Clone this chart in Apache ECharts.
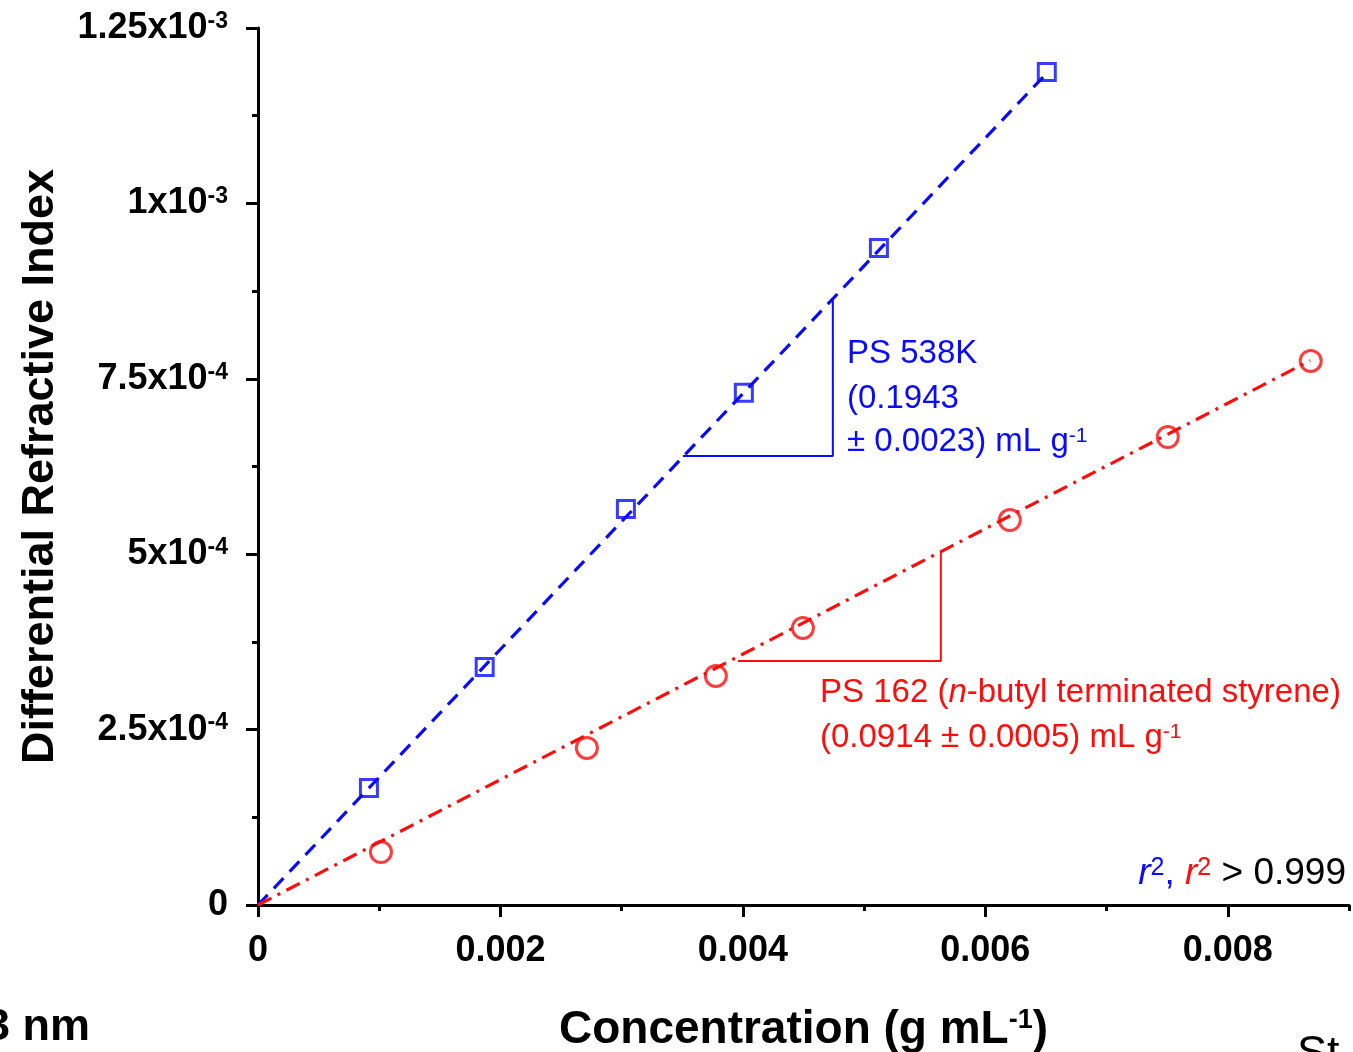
<!DOCTYPE html>
<html>
<head>
<meta charset="utf-8">
<script src="https://cdn.jsdelivr.net/npm/echarts@6/dist/echarts.min.js"></script>
<style>
  html, body { margin: 0; padding: 0; background: #fff; }
  #chart { width: 1353px; height: 1052px; }
</style>
</head>
<body>
<div id="chart"></div>
<script>
const FONT = '"Liberation Sans", Arial, Helvetica, sans-serif';
const BLUE = '#0a0aff';
const RED = '#ff0d0d';

// PS 538K: concentration (g/mL) and differential refractive index
const ps538Conc = [0.000915, 0.00187, 0.003035, 0.004008, 0.005122, 0.006507];
const ps538Dri  = [1.668e-4, 3.392e-4, 5.644e-4, 7.30e-4, 9.364e-4, 1.1873e-3];

// PS 162 (n-butyl terminated styrene)
const ps162Conc = [0.001014, 0.002713, 0.003777, 0.004495, 0.006202, 0.007505, 0.008684];
const ps162Dri  = [7.55e-5, 2.238e-4, 3.264e-4, 3.948e-4, 5.487e-4, 6.670e-4, 7.754e-4];

// Linear fits through the origin (end points)
const ps538FitConc = [0, 0.00652];
const ps538FitDri  = [0, 1.188e-3];
const ps162FitConc = [0, 0.00868];
const ps162FitDri  = [0, 7.76e-4];

// Slope triangles
const ps538StepConc = [0.003505, 0.004742, 0.004742];
const ps538StepDri  = [6.40e-4, 6.40e-4, 8.66e-4];
const ps162StepConc = [0.003959, 0.005633, 0.005633];
const ps162StepDri  = [3.478e-4, 3.478e-4, 5.03e-4];

// Tick labels
const xTickValues = [0, 0.002, 0.004, 0.006, 0.008];
const xTickLabels = ['0', '0.002', '0.004', '0.006', '0.008'];
const yTickValues = [0, 2.5e-4, 5e-4, 7.5e-4, 1e-3, 1.25e-3];
const yTickMantissa = ['0', '2.5x10', '5x10', '7.5x10', '1x10', '1.25x10'];
const yTickExponent = ['', '-4', '-4', '-4', '-3', '-3'];

function zip(xs, ys) { return xs.map((x, i) => [x, ys[i]]); }
function findTick(values, v) { return values.findIndex(t => Math.abs(t - v) < 1e-9); }

const chart = echarts.init(document.getElementById('chart'), null, { renderer: 'canvas' });

const axisLine = { show: true, lineStyle: { color: '#000', width: 3 } };

const option = {
  backgroundColor: '#fff',
  animation: false,
  grid: { left: 258, right: 4, top: 28, bottom: 147, containLabel: false, outerBoundsMode: 'none' },
  xAxis: [
    {
      type: 'value', position: 'bottom', min: 0, max: 0.009, interval: 0.001,
      axisLine: axisLine,
      axisTick: { show: true, inside: false, length: 6, lineStyle: { color: '#000', width: 3 } },
      axisLabel: { show: false },
      splitLine: { show: false },
      name: 'Concentration (g mL{s|-1})',
      nameLocation: 'middle',
      nameGap: 102,
      nameTextStyle: {
        fontFamily: FONT, fontSize: 46, fontWeight: 'bold', color: '#000',
        rich: {
          s: { fontFamily: FONT, fontSize: 27, fontWeight: 'bold', color: '#000', verticalAlign: 'top' }
        }
      }
    },
    {
      type: 'value', position: 'bottom', offset: 0, min: 0, max: 0.009, interval: 0.002,
      axisLine: { show: false },
      axisTick: { show: true, inside: false, length: 12, customValues: xTickValues, lineStyle: { color: '#000', width: 3 } },
      axisLabel: {
        show: true, margin: 28, customValues: xTickValues,
        fontFamily: FONT, fontSize: 36, fontWeight: 'bold', color: '#000',
        formatter: v => { const i = findTick(xTickValues, v); return i < 0 ? '' : xTickLabels[i]; }
      },
      splitLine: { show: false }
    }
  ],
  yAxis: {
    type: 'value', min: 0, max: 1.25e-3, interval: 2.5e-4,
    axisLine: axisLine,
    axisTick: { show: true, inside: false, length: 12, lineStyle: { color: '#000', width: 3 } },
    minorTick: { show: true, splitNumber: 2, length: 6, lineStyle: { color: '#000', width: 3 } },
    splitLine: { show: false },
    axisLabel: {
      margin: 30,
      formatter: v => {
        const i = findTick(yTickValues, v);
        if (i < 0) return '';
        return yTickExponent[i] ? '{m|' + yTickMantissa[i] + '}{s|' + yTickExponent[i] + '}' : '{m|' + yTickMantissa[i] + '}';
      },
      rich: {
        m: { fontFamily: FONT, fontSize: 36, fontWeight: 'bold', color: '#000' },
        s: { fontFamily: FONT, fontSize: 23, fontWeight: 'bold', color: '#000', verticalAlign: 'top' }
      }
    },
    name: 'Differential Refractive Index',
    nameLocation: 'middle',
    nameRotate: 90,
    nameGap: 195,
    nameTextStyle: { fontFamily: FONT, fontSize: 45, fontWeight: 'bold', color: '#000' }
  },
  series: [
    {
      name: 'PS 538K fit', type: 'line', xAxisIndex: 0, data: zip(ps538FitConc, ps538FitDri),
      showSymbol: false, symbol: 'none', z: 2,
      lineStyle: { color: BLUE, width: 3.2, type: [14, 9] }
    },
    {
      name: 'PS 162 fit', type: 'line', xAxisIndex: 0, data: zip(ps162FitConc, ps162FitDri),
      showSymbol: false, symbol: 'none', z: 2,
      lineStyle: { color: RED, width: 3.2, type: [15, 7, 3, 7] }
    },
    {
      name: 'PS 538K slope', type: 'line', xAxisIndex: 0, data: zip(ps538StepConc, ps538StepDri),
      showSymbol: false, symbol: 'none', z: 2,
      lineStyle: { color: BLUE, width: 2 }
    },
    {
      name: 'PS 162 slope', type: 'line', xAxisIndex: 0, data: zip(ps162StepConc, ps162StepDri),
      showSymbol: false, symbol: 'none', z: 2,
      lineStyle: { color: RED, width: 2 }
    },
    {
      name: 'PS 538K', type: 'scatter', xAxisIndex: 0, data: zip(ps538Conc, ps538Dri),
      symbol: 'rect', symbolSize: 17, z: 3,
      itemStyle: { color: 'rgba(0,0,0,0)', borderColor: BLUE, borderWidth: 3 }
    },
    {
      name: 'PS 162', type: 'scatter', xAxisIndex: 0, data: zip(ps162Conc, ps162Dri),
      symbol: 'circle', symbolSize: 21, z: 3,
      itemStyle: { color: 'rgba(0,0,0,0)', borderColor: RED, borderWidth: 3 }
    }
  ],
  graphic: [
    { type: 'text', x: 847, y: 354, style: { text: 'PS 538K', fill: BLUE, font: '33px ' + FONT, verticalAlign: 'middle' } },
    { type: 'text', x: 847, y: 399, style: { text: '(0.1943', fill: BLUE, font: '33px ' + FONT, verticalAlign: 'middle' } },
    {
      type: 'text', x: 847, y: 442,
      style: {
        text: '{t|± 0.0023) mL g}{s|-1}', verticalAlign: 'middle',
        rich: {
          t: { fill: BLUE, fontSize: 33, fontFamily: FONT },
          s: { fill: BLUE, fontSize: 21, fontFamily: FONT, verticalAlign: 'top' }
        }
      }
    },
    {
      type: 'text', x: 820, y: 693,
      style: {
        text: '{t|PS 162 (}{i|n}{t|-butyl terminated styrene)}', verticalAlign: 'middle',
        rich: {
          t: { fill: RED, fontSize: 33, fontFamily: FONT },
          i: { fill: RED, fontSize: 33, fontFamily: FONT, fontStyle: 'italic' }
        }
      }
    },
    {
      type: 'text', x: 820, y: 738,
      style: {
        text: '{t|(0.0914 ± 0.0005) mL g}{s|-1}', verticalAlign: 'middle',
        rich: {
          t: { fill: RED, fontSize: 33, fontFamily: FONT },
          s: { fill: RED, fontSize: 21, fontFamily: FONT, verticalAlign: 'top' }
        }
      }
    },
    {
      type: 'text', x: 1346, y: 874,
      style: {
        text: '{bi|r}{bs|2}{b|, }{ri|r}{rs|2}{k| > 0.999}', align: 'right', verticalAlign: 'middle',
        rich: {
          bi: { fill: BLUE, fontSize: 37, fontFamily: FONT, fontStyle: 'italic' },
          bs: { fill: BLUE, fontSize: 25, fontFamily: FONT, verticalAlign: 'top' },
          b: { fill: BLUE, fontSize: 37, fontFamily: FONT },
          ri: { fill: RED, fontSize: 37, fontFamily: FONT, fontStyle: 'italic' },
          rs: { fill: RED, fontSize: 25, fontFamily: FONT, verticalAlign: 'top' },
          k: { fill: '#000', fontSize: 37, fontFamily: FONT }
        }
      }
    },
    { type: 'text', x: -15, y: 1028, style: { text: '3 nm', fill: '#000', font: 'bold 45px ' + FONT, verticalAlign: 'middle' } },
    { type: 'text', x: 1297, y: 1055, style: { text: 'St', fill: '#000', font: '45px ' + FONT, verticalAlign: 'middle' } }
  ]
};

chart.setOption(option);
</script>
</body>
</html>
